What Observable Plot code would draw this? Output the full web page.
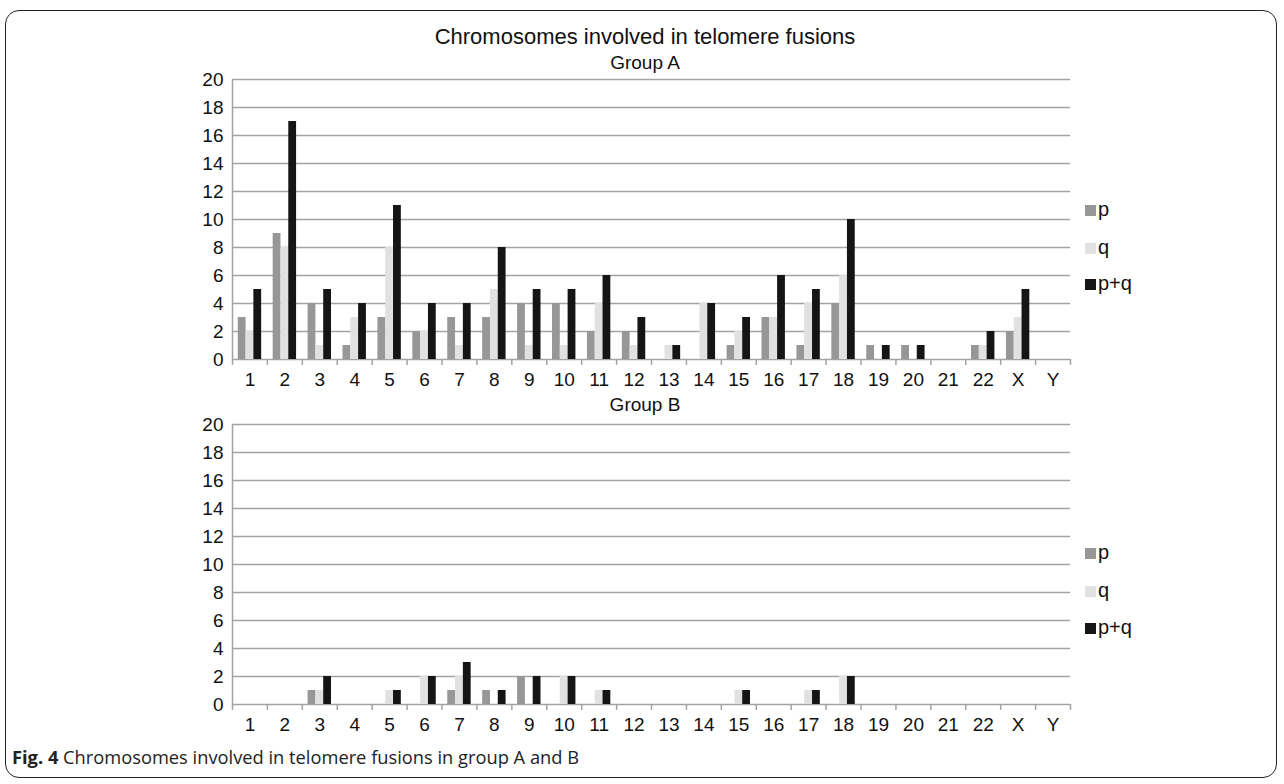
<!DOCTYPE html>
<html>
<head>
<meta charset="utf-8">
<script src="https://cdn.jsdelivr.net/npm/d3@7"></script>
<script src="https://cdn.jsdelivr.net/npm/@observablehq/plot@0.6"></script>
<style>
  html, body { margin: 0; padding: 0; background: #fff; }
  #root { position: relative; width: 1284px; height: 784px; overflow: hidden; font-family: "Liberation Sans", Arial, sans-serif; }
  #box { position: absolute; left: 5px; top: 10px; width: 1272px; height: 768px; border: 1.5px solid #222; border-radius: 14px; box-sizing: border-box; }
  .t { position: absolute; left: 0; width: 1290px; text-align: center; color: #111; white-space: nowrap; }
  .plot { position: absolute; left: 0; }
  .legend { position: absolute; font-size: 20px; color: #111; }
  .legend .item { position: absolute; left: 0; white-space: nowrap; line-height: 20px; }
  .legend .sw { display: inline-block; width: 11px; height: 11px; margin-right: 2px; vertical-align: 0px; }
  #caption { position: absolute; left: 12px; top: 744px; font-family: "Open Sans", "Noto Sans", sans-serif; font-size: 18.3px; color: #222; white-space: nowrap; }
</style>
</head>
<body>
<div id="root">
  <div id="box"></div>
  <div class="t" style="top:24px;font-size:22px;">Chromosomes involved in telomere fusions</div>
  <div class="t" style="top:52px;font-size:19px;">Group A</div>
  <div class="t" style="top:394px;font-size:19px;">Group B</div>
  <div id="plotA" class="plot" style="top:69px;"></div>
  <div id="plotB" class="plot" style="top:414px;"></div>
  <div id="legendA" class="legend" style="left:1085px;top:0px;"></div>
  <div id="legendB" class="legend" style="left:1085px;top:0px;"></div>
  <div id="caption"><b>Fig. 4</b> Chromosomes involved in telomere fusions in group A and B</div>
</div>
<script>
// ---- data ----
const chromosomes = ["1","2","3","4","5","6","7","8","9","10","11","12","13","14","15","16","17","18","19","20","21","22","X","Y"];
const seriesNames = ["p", "q", "p+q"];
const seriesColors = ["#979797", "#e1e1e1", "#151515"];

const groupA_p  = [3, 9, 4, 1, 3, 2, 3, 3, 4, 4, 2, 2, 0, 0, 1, 3, 1, 4, 1, 1, 0, 1, 2, 0];
const groupA_q  = [2, 8, 1, 3, 8, 2, 1, 5, 1, 1, 4, 1, 1, 4, 2, 3, 4, 6, 0, 0, 0, 1, 3, 0];
const groupA_pq = [5,17, 5, 4,11, 4, 4, 8, 5, 5, 6, 3, 1, 4, 3, 6, 5,10, 1, 1, 0, 2, 5, 0];

const groupB_p  = [0, 0, 1, 0, 0, 0, 1, 1, 2, 0, 0, 0, 0, 0, 0, 0, 0, 0, 0, 0, 0, 0, 0, 0];
const groupB_q  = [0, 0, 1, 0, 1, 2, 2, 0, 0, 2, 1, 0, 0, 0, 1, 0, 1, 2, 0, 0, 0, 0, 0, 0];
const groupB_pq = [0, 0, 2, 0, 1, 2, 3, 1, 2, 2, 1, 0, 0, 0, 1, 0, 1, 2, 0, 0, 0, 0, 0, 0];

const yTicks = [0, 2, 4, 6, 8, 10, 12, 14, 16, 18, 20];

// ---- layout ----
const W = 1284, ML = 232, MR = 214, MT = 10, MB = 38, H = 328;
const bw = (W - ML - MR) / chromosomes.length;
const barW = 7.8;
const gap = (bw - 3 * barW) / 2;
const grid = "#a3a3a3";

function tidy(arrs) {
  const rows = [];
  chromosomes.forEach((c, i) => {
    arrs.forEach((a, s) => rows.push({chrom: c, series: seriesNames[s], value: a[i]}));
  });
  return rows.filter(d => d.value > 0);
}

function makePlot(arrs) {
  const data = tidy(arrs);
  const barMarks = seriesNames.map((s, k) =>
    Plot.barY(data.filter(d => d.series === s), {
      x: "chrom", y: "value", fill: seriesColors[k],
      insetLeft: gap + k * barW,
      insetRight: bw - gap - (k + 1) * barW
    })
  );
  return Plot.plot({
    width: W, height: H,
    marginLeft: ML, marginRight: MR, marginTop: MT, marginBottom: MB,
    style: {fontFamily: "'Liberation Sans', Arial, sans-serif", fontSize: "19px", color: "#111", background: "transparent", overflow: "visible"},
    x: {domain: chromosomes, padding: 0, round: false, axis: null},
    y: {domain: [0, 20], axis: null},
    marks: [
      Plot.ruleY(yTicks, {stroke: grid, strokeWidth: 1.5}),
      Plot.ruleX([chromosomes[0]], {dx: -bw / 2, y1: 0, y2: 20, stroke: grid, strokeWidth: 1.5}),
      Plot.ruleX(chromosomes, {dx: -bw / 2, y1: 0, y2: -0.42, stroke: grid, strokeWidth: 1.5}),
      Plot.ruleX([chromosomes[chromosomes.length - 1]], {dx: bw / 2, y1: 0, y2: -0.42, stroke: grid, strokeWidth: 1.5}),
      ...barMarks,
      Plot.axisX({tickSize: 0, tickPadding: 13, fontSize: 19, label: null}),
      Plot.axisY({ticks: yTicks, tickSize: 0, tickPadding: 9, fontSize: 19, label: null})
    ]
  });
}

document.getElementById("plotA").appendChild(makePlot([groupA_p, groupA_q, groupA_pq]));
document.getElementById("plotB").appendChild(makePlot([groupB_p, groupB_q, groupB_pq]));

function legend(el, tops) {
  seriesNames.forEach((s, k) => {
    const it = document.createElement("div");
    it.className = "item";
    it.style.top = tops[k] + "px";
    it.innerHTML = `<span class="sw" style="background:${seriesColors[k]}"></span>${s}`;
    el.appendChild(it);
  });
}
legend(document.getElementById("legendA"), [199, 237, 273]);
legend(document.getElementById("legendB"), [542, 580, 617]);
</script>
</body>
</html>
